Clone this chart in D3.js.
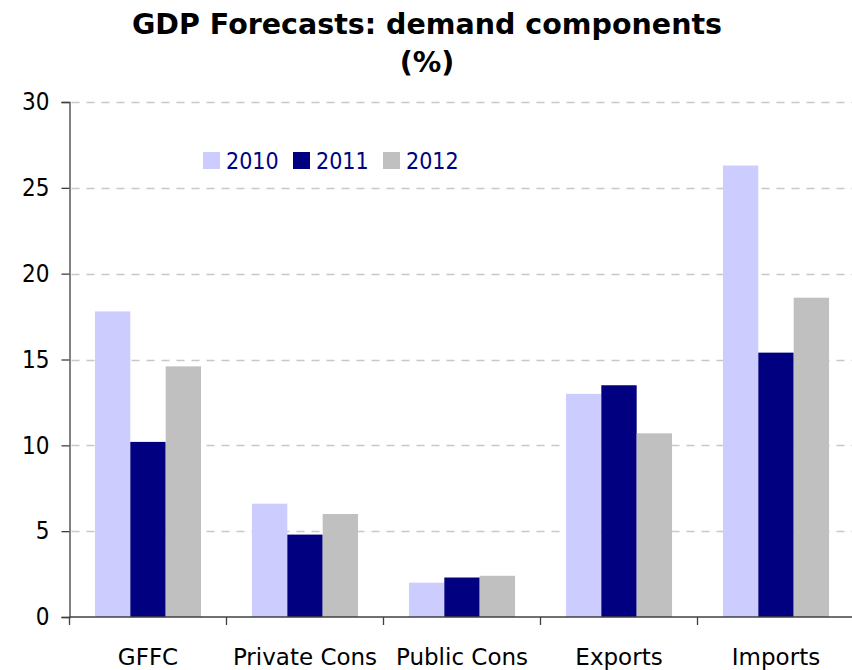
<!DOCTYPE html>
<html>
<head>
<meta charset="utf-8">
<script src="https://cdn.jsdelivr.net/npm/d3@7"></script>
<style>
  html, body { margin: 0; padding: 0; background: #fff; }
  svg { display: block; }
</style>
</head>
<body>
<svg id="chart" width="852" height="670"></svg>
<script>
// Demand components of GDP, growth forecasts in %
const categories = ["GFFC", "Private Cons", "Public Cons", "Exports", "Imports"];
const years = ["2010", "2011", "2012"];
const values2010 = [17.8, 6.6, 2.0, 13.0, 26.3];
const values2011 = [10.2, 4.8, 2.3, 13.5, 15.4];
const values2012 = [14.6, 6.0, 2.4, 10.7, 18.6];
const yTicks = [0, 5, 10, 15, 20, 25, 30];
const colors = ["#ccccff", "#000080", "#c0c0c0"];

const series = [values2010, values2011, values2012];
const rows = categories.map((c, i) => ({
  category: c,
  bars: years.map((y, j) => ({ year: y, value: series[j][i], color: colors[j] }))
}));

const svg = d3.select("#chart");

const plot = { left: 69.5, right: 854.5, top: 102, bottom: 617 };

const x0 = d3.scaleBand()
  .domain(categories)
  .range([plot.left, plot.right])
  .paddingInner(0)
  .paddingOuter(0);

const x1 = d3.scaleBand()
  .domain(years)
  .range([0, x0.bandwidth()])
  .paddingInner(0)
  .paddingOuter(0.72);

const y = d3.scaleLinear()
  .domain([0, 30])
  .range([plot.bottom, plot.top]);

// Title
const title = svg.append("text")
  .attr("x", 427)
  .attr("text-anchor", "middle")
  .style("font-family", "'DejaVu Sans', Verdana, sans-serif")
  .style("font-weight", "bold")
  .style("font-size", "28.5px")
  .style("fill", "#000");
title.append("tspan").attr("x", 427).attr("y", 34).text("GDP Forecasts: demand components");
title.append("tspan").attr("x", 427).attr("y", 72).text("(%)");

// Dashed horizontal gridlines
svg.append("g")
  .selectAll("line")
  .data(yTicks.filter(t => t > 0))
  .join("line")
  .attr("x1", plot.left + 2)
  .attr("x2", 852)
  .attr("y1", d => Math.round(y(d)) + 0.5)
  .attr("y2", d => Math.round(y(d)) + 0.5)
  .attr("stroke", "#c8c8c8")
  .attr("stroke-width", 1.5)
  .attr("stroke-dasharray", "8,7");

// Bars
const groups = svg.append("g")
  .selectAll("g")
  .data(rows)
  .join("g")
  .attr("transform", d => `translate(${x0(d.category)},0)`);

groups.selectAll("rect")
  .data(d => d.bars)
  .join("rect")
  .attr("x", d => x1(d.year))
  .attr("width", x1.bandwidth())
  .attr("y", d => y(d.value))
  .attr("height", d => y(0) - y(d.value))
  .attr("fill", d => d.color);

// Y axis
const yAxis = d3.axisLeft(y)
  .tickValues(yTicks)
  .tickSize(8)
  .tickPadding(12)
  .tickFormat(d3.format("d"));

const yg = svg.append("g")
  .attr("transform", `translate(${plot.left},0)`)
  .call(yAxis);
yg.select(".domain").attr("stroke", "#404040").attr("stroke-width", 1.3);
yg.selectAll(".tick line").attr("stroke", "#404040").attr("stroke-width", 1.3);
yg.selectAll(".tick text")
  .style("font-family", "'DejaVu Sans Condensed', 'DejaVu Sans', sans-serif")
  .style("font-size", "24px")
  .attr("fill", "#000");

// X axis: ticks at category boundaries, labels centred in bands
const boundaries = categories.map(c => x0(c)).concat([plot.right]);
const xg = svg.append("g");
xg.append("line")
  .attr("x1", plot.left).attr("x2", plot.right)
  .attr("y1", plot.bottom).attr("y2", plot.bottom)
  .attr("stroke", "#404040").attr("stroke-width", 1.3);
xg.selectAll("line.tick")
  .data(boundaries)
  .join("line")
  .attr("class", "tick")
  .attr("x1", d => d).attr("x2", d => d)
  .attr("y1", plot.bottom).attr("y2", plot.bottom + 8)
  .attr("stroke", "#404040").attr("stroke-width", 1.3);
xg.selectAll("text")
  .data(categories)
  .join("text")
  .attr("x", d => x0(d) + x0.bandwidth() / 2)
  .attr("y", 665)
  .attr("text-anchor", "middle")
  .style("font-family", "'DejaVu Sans', Verdana, sans-serif")
  .style("font-size", "23px")
  .attr("fill", "#000")
  .text(d => d);

// Legend
const legend = svg.append("g")
  .selectAll("g")
  .data(years)
  .join("g")
  .attr("transform", (d, i) => `translate(${203 + i * 90},152)`);
legend.append("rect")
  .attr("width", 17).attr("height", 17)
  .attr("fill", (d, i) => colors[i]);
legend.append("text")
  .attr("x", 23).attr("y", 17)
  .style("font-family", "'DejaVu Sans Condensed', 'DejaVu Sans', sans-serif")
  .style("font-size", "23px")
  .attr("fill", "#000080")
  .text(d => d);
</script>
</body>
</html>
